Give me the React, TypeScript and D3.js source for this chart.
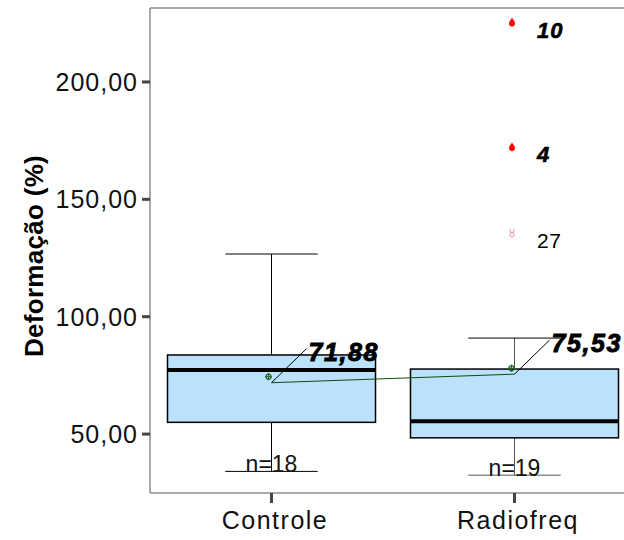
import React from "react";
import * as d3 from "d3";

const categories = ["Controle", "Radiofreq"];
const q1Values = [55.0, 48.4];
const medianValues = [77.3, 55.5];
const q3Values = [83.7, 77.7];
const whiskerLow = [34.1, 32.5];
const whiskerHigh = [126.7, 90.9];
const meanValues = [71.88, 75.53];
const meanLabels = ["71,88", "75,53"];
const nCounts = [18, 19];
const outlierCategory = ["Radiofreq", "Radiofreq", "Radiofreq"];
const outlierValues = [225.2, 172.1, 135.5];
const outlierLabels = ["10", "4", "27"];
const outlierExtreme = [true, true, false];
const yTicks = [50, 100, 150, 200];
const yTickLabels = ["50,00", "100,00", "150,00", "200,00"];

const W = 624;
const H = 540;
const FONT = "'Liberation Sans', Arial, Helvetica, sans-serif";

export default function App() {
  const left = 150;
  const top = 8;
  const bottom = 493;
  const x = d3.scaleBand<string>().domain(categories).range([left, left + 486]).padding(0);
  const y = d3.scaleLinear().domain([24.9, 231.5]).range([bottom, top]);
  const bw = x.bandwidth();
  const boxW = bw * 0.856;
  const capW = bw * 0.38;
  const cx = (c: string) => (x(c) as number) + bw / 2;

  const meanLine = d3
    .line<number>()
    .x((_, i) => cx(categories[i]))
    .y((d) => y(d));

  const drop = "M0,-5 C1.2,-3 3,-1.5 3,0.6 A3,3 0 1 1 -3,0.6 C-3,-1.5 -1.2,-3 0,-5 Z";

  return (
    <svg
      width={W}
      height={H}
      style={{ position: "absolute", left: 0, top: 0, background: "#fff" }}
      fontFamily={FONT}
    >
      <rect x={0} y={0} width={W} height={H} fill="#fff" />
      {/* frame */}
      <line x1={left} x2={W} y1={top} y2={top} stroke="#8c8c8c" strokeWidth={1.5} />
      <line x1={left} x2={left} y1={top} y2={bottom} stroke="#8c8c8c" strokeWidth={1.5} />
      <line x1={left} x2={W} y1={bottom} y2={bottom} stroke="#8c8c8c" strokeWidth={1.5} />

      {/* y ticks */}
      {yTicks.map((t, i) => (
        <g key={t}>
          <line x1={left - 8} x2={left} y1={y(t)} y2={y(t)} stroke="#444" strokeWidth={3} />
          <text x={138} y={y(t) + 9} textAnchor="end" fontSize={25} letterSpacing={1} fill="#111">
            {yTickLabels[i]}
          </text>
        </g>
      ))}
      {/* x ticks */}
      {categories.map((c) => (
        <g key={c}>
          <line x1={cx(c)} x2={cx(c)} y1={bottom} y2={bottom + 10} stroke="#444" strokeWidth={3} />
          <text x={cx(c) + 3.5} y={529} textAnchor="middle" fontSize={25} letterSpacing={1.5} fill="#111">
            {c}
          </text>
        </g>
      ))}
      <text
        transform={`translate(43,256) rotate(-90)`}
        textAnchor="middle"
        fontSize={26}
        fontWeight="bold"
        letterSpacing={0.3}
        fill="#000"
      >
        Deformação (%)
      </text>

      {/* boxes */}
      {categories.map((c, i) => {
        const xc = cx(c);
        return (
          <g key={c}>
            <line x1={xc} x2={xc} y1={y(whiskerHigh[i])} y2={y(q3Values[i])} stroke={i === 0 ? "#000" : "#555"} strokeWidth={1} />
            <line x1={xc} x2={xc} y1={y(q1Values[i])} y2={y(whiskerLow[i])} stroke={i === 0 ? "#000" : "#555"} strokeWidth={1} />
            <line x1={xc - capW / 2} x2={xc + capW / 2} y1={y(whiskerHigh[i])} y2={y(whiskerHigh[i])} stroke="#000" strokeWidth={1} />
            <line x1={xc - capW / 2} x2={xc + capW / 2} y1={y(whiskerLow[i])} y2={y(whiskerLow[i])} stroke={i === 0 ? "#000" : "#555"} strokeWidth={1} />
            <rect
              x={xc - boxW / 2}
              y={y(q3Values[i])}
              width={boxW}
              height={y(q1Values[i]) - y(q3Values[i])}
              fill="#bbe1fb"
              stroke="#000"
              strokeWidth={1.5}
            />
            <line x1={xc - boxW / 2} x2={xc + boxW / 2} y1={y(medianValues[i])} y2={y(medianValues[i])} stroke="#000" strokeWidth={4} />
            <text x={xc} y={y(whiskerLow[i]) + 1} textAnchor="middle" fontSize={23} fill="#111">
              {`n=${nCounts[i]}`}
            </text>
          </g>
        );
      })}

      {/* mean line */}
      <path d={meanLine(meanValues) || ""} fill="none" stroke="#0b4d0b" strokeWidth={1} />
      {categories.map((c, i) => {
        const xc = cx(c);
        const ym = y(meanValues[i]);
        return (
          <g key={"m" + c}>
            <line x1={xc} y1={ym} x2={xc + 35} y2={ym - 34} stroke="#000" strokeWidth={1} />
            <g transform={`translate(${xc - 3},${ym - 6})`}>
              <circle r={2.6} fill="none" stroke="#1f5f1f" strokeWidth={1.2} />
              <line x1={-3.5} x2={3.5} y1={0} y2={0} stroke="#1f5f1f" strokeWidth={1} />
              <line x1={0} x2={0} y1={-3.5} y2={3.5} stroke="#1f5f1f" strokeWidth={1} />
            </g>
            <text
              x={xc + 37}
              y={ym - 22}
              fontSize={25}
              fontWeight="bold"
              fontStyle="italic"
              letterSpacing={1.6}
              fill="#000"
              stroke="#000"
              strokeWidth={0.9}
            >
              {meanLabels[i]}
            </text>
          </g>
        );
      })}

      {/* outliers */}
      {outlierValues.map((v, i) => {
        const xc = cx(outlierCategory[i]) - 2.5;
        const yv = y(v);
        return (
          <g key={"o" + i}>
            {outlierExtreme[i] ? (
              <path d={drop} transform={`translate(${xc},${yv})`} fill="#ff0000" />
            ) : (
              <g transform={`translate(${xc},${yv})`} fill="none" stroke="#f08080" strokeWidth={0.9}>
                <circle cx={0} cy={1.5} r={2.2} />
                <path d="M-1,-0.5 L-2,-4 M1,-0.5 L2,-4" />
              </g>
            )}
            <text
              x={xc + 25}
              y={yv + 15}
              fontSize={outlierExtreme[i] ? 22 : 21}
              fontWeight={outlierExtreme[i] ? "bold" : "normal"}
              fontStyle={outlierExtreme[i] ? "italic" : "normal"}
              letterSpacing={outlierExtreme[i] ? 1 : 0.5}
              stroke={outlierExtreme[i] ? "#000" : "none"}
              strokeWidth={0.6}
              fill="#000"
            >
              {outlierLabels[i]}
            </text>
          </g>
        );
      })}
    </svg>
  );
}
